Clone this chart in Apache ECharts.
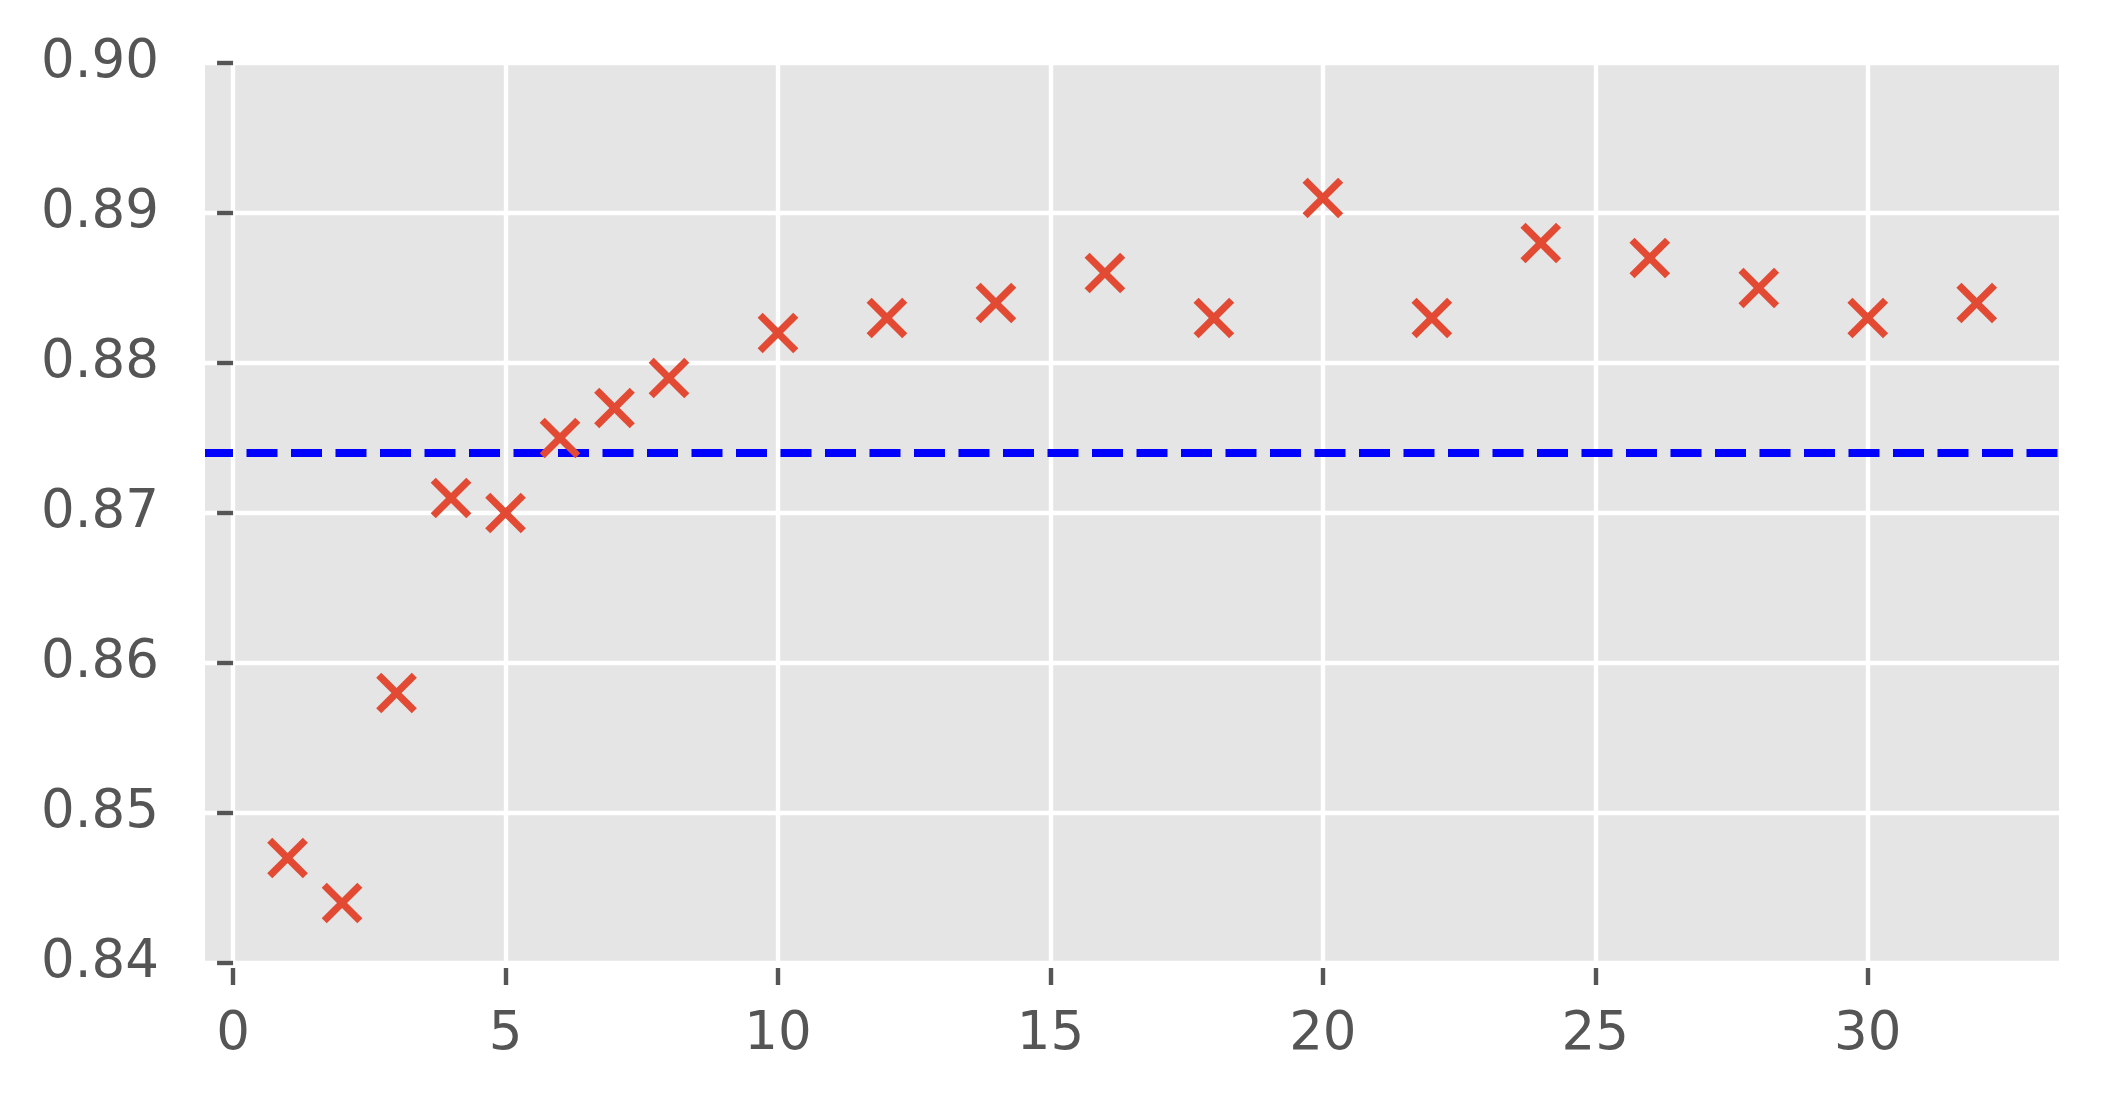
<!DOCTYPE html>
<html>
<head>
<meta charset="utf-8">
<script src="https://cdn.jsdelivr.net/npm/echarts@6/dist/echarts.min.js"></script>
<style>html,body{margin:0;padding:0;background:#fff}#c{width:2105px;height:1099px}</style>
</head>
<body>
<div id="c"></div>
<script>
const xValues = [1, 2, 3, 4, 5, 6, 7, 8, 10, 12, 14, 16, 18, 20, 22, 24, 26, 28, 30, 32];
const yValues = [0.847, 0.844, 0.858, 0.871, 0.870, 0.875, 0.877, 0.879, 0.882, 0.883, 0.884, 0.886, 0.883, 0.891, 0.883, 0.888, 0.887, 0.885, 0.883, 0.884];
const refLine = 0.874;
const xTicks = [0, 5, 10, 15, 20, 25, 30];
const yTicks = [0.84, 0.85, 0.86, 0.87, 0.88, 0.89, 0.90];

const chart = echarts.init(document.getElementById('c'), null, {renderer: 'canvas'});
const labelStyle = {color: '#555555', fontSize: 53, fontFamily: 'DejaVu Sans'};
const points = xValues.map((x, i) => [x, yValues[i]]);

chart.setOption({
  animation: false,
  backgroundColor: '#ffffff',
  grid: {left: 205, top: 63, right: 46, bottom: 136, show: true, backgroundColor: '#E5E5E5', borderWidth: 0},
  xAxis: {
    type: 'value', min: -0.515, max: 33.51, offset: 5,
    axisLine: {show: false},
    axisTick: {show: true, length: 17, lineStyle: {color: '#555555', width: 4.4}, customValues: xTicks},
    axisLabel: Object.assign({margin: 41, customValues: xTicks, formatter: v => String(v)}, labelStyle),
    splitLine: {show: true, lineStyle: {color: '#ffffff', width: 4.4}}
  },
  yAxis: {
    type: 'value', min: 0.84, max: 0.90, offset: 6,
    axisLine: {show: false},
    axisTick: {show: true, length: 16, lineStyle: {color: '#555555', width: 4.4}, customValues: yTicks},
    axisLabel: Object.assign({margin: 40, customValues: yTicks, formatter: v => v.toFixed(2)}, labelStyle),
    splitLine: {show: true, lineStyle: {color: '#ffffff', width: 4.4}}
  },
  series: [{
    type: 'custom',
    data: points,
    z: 5,
    renderItem: function (params, api) {
      const c = api.coord([api.value(0), api.value(1)]);
      const h = 17.8;
      const st = {stroke: '#E24A33', lineWidth: 7.2, lineCap: 'butt'};
      return {
        type: 'group',
        children: [
          {type: 'line', shape: {x1: c[0] - h, y1: c[1] - h, x2: c[0] + h, y2: c[1] + h}, style: st},
          {type: 'line', shape: {x1: c[0] - h, y1: c[1] + h, x2: c[0] + h, y2: c[1] - h}, style: st}
        ]
      };
    },
    markLine: {
      silent: true, symbol: 'none', label: {show: false}, z: 3, precision: 4,
      lineStyle: {color: '#0000FF', width: 8, type: [31, 13.5], dashOffset: 3},
      emphasis: {disabled: true},
      data: [{yAxis: refLine}]
    }
  }]
});
</script>
</body>
</html>
